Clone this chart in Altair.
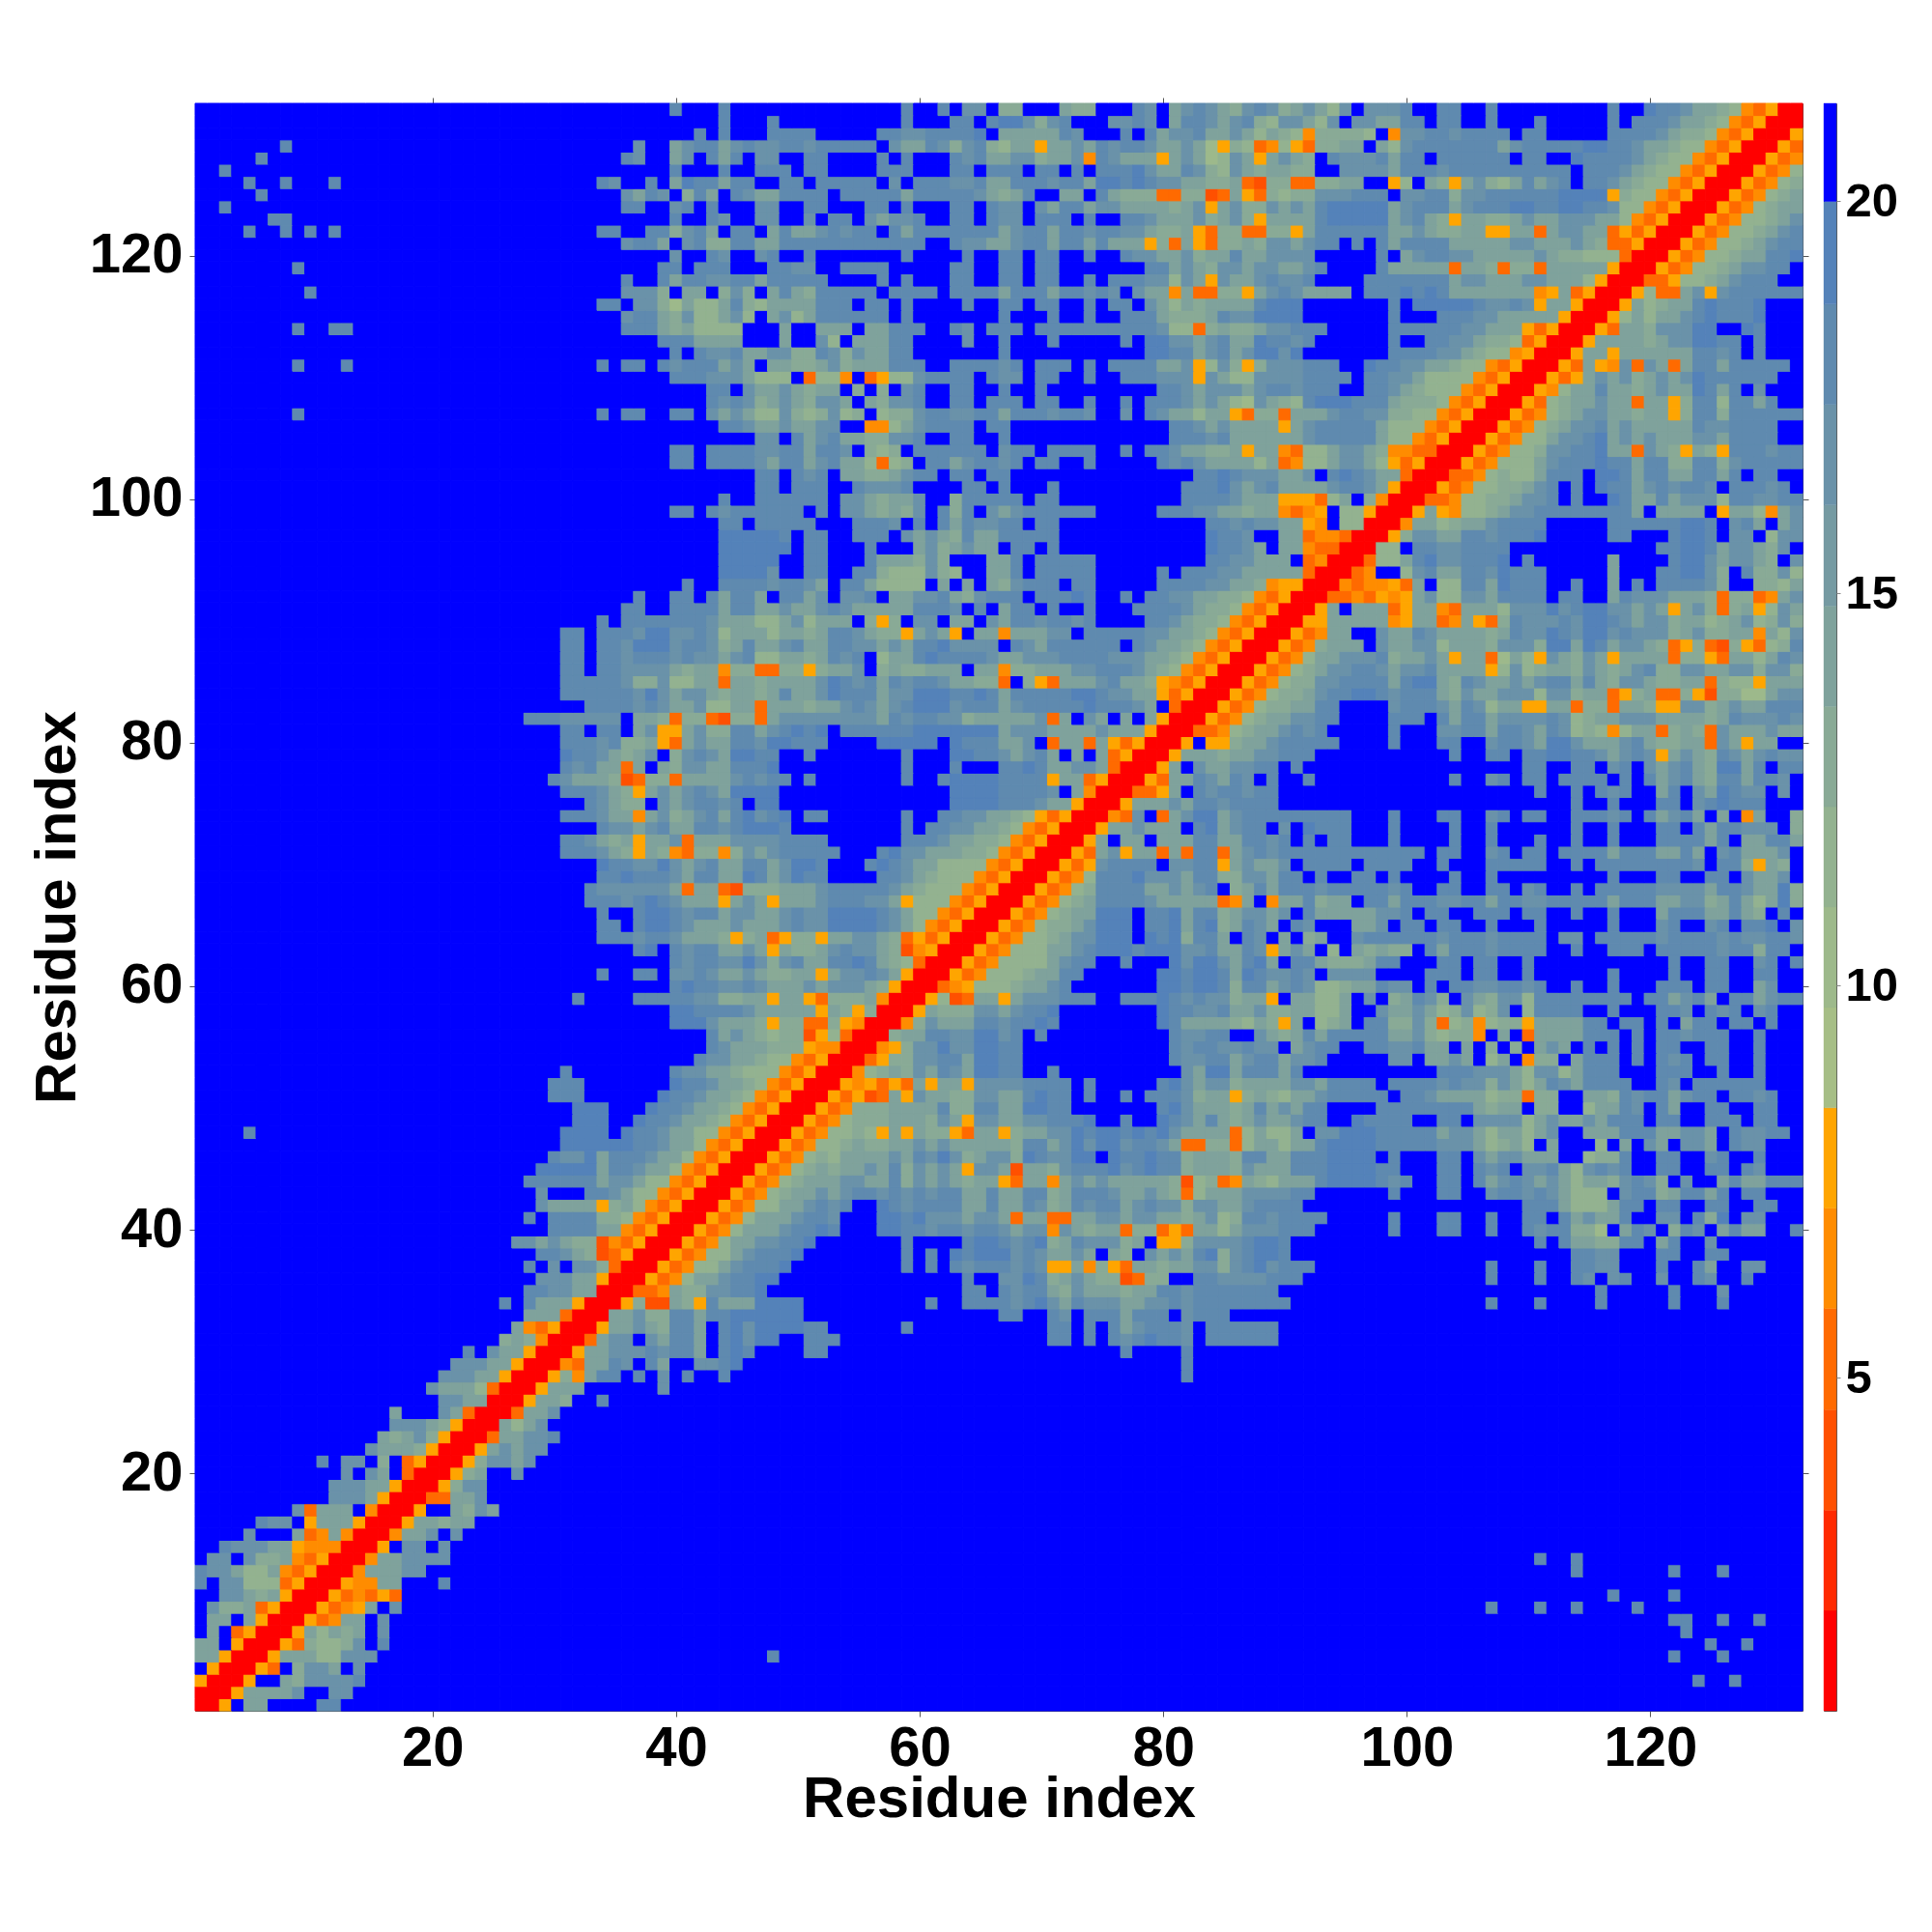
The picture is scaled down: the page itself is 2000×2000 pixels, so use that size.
import altair as alt
import pandas as pd

alt.data_transformers.disable_max_rows()

N = 132
# level code (hex digit) for each band of the colour bar: 0 red ... 5 orange, 6..e green to steel blue, f blue
BAND_COLORS = ["#ff0000", "#ff2a00", "#ff5000", "#ff6a00", "#ff8c00", "#ffa500",
               "#a6be86", "#9db98b", "#93b290", "#89aa96", "#7fa29c", "#759aa2",
               "#6a92a9", "#5f8aaf", "#5482b9", "#0000ff"]
BAND_EDGES = [0.75, 2.03, 3.31, 4.59, 5.88, 7.16, 8.44, 9.72, 11.0, 12.28, 13.56,
              14.84, 16.13, 17.41, 18.69, 20.0, 21.25]
TICKS_MAIN = [20, 40, 60, 80, 100, 120]
TICKS_BAR = [5, 10, 15, 20]
# the transcription codes b, c, d read a band too light against the reference
CODE_FIX = {11: 12, 12: 13, 13: 14}

# rows 132 down to 53, columns 31..70
SEG_A = [
"fffffffffc fffcffffff ffffffffcf fcfbbf99ff",
"ffffffffff fffcfffcff ffffffffcf ffccfcddb9",
"ffffffffff fcfcfffccc cfffffccbb ccccdfaaaa",
"ffffffbffa bccabcbbcc bcccccfbaa cb9bc98aa5",
"fffffcbffa bfcacfbbff ccffffcfcf ffcbcaabb9",
"fffffffffc fffcffcccf ccffffcccf ffccfcccfc",
"fffcbffcfa dccaccffcc fcccccfbfc ccbbcaaccc",
"fffffbacbf 9cafcbaacc ccfcccccac ccccba9acf",
"fffffccffb cfcfffbbff ccfffccfcf ffccfcbbfb",
"fffffffffc ffcbffbbff bfccfbabbc ffccfcbbfc",
"fffccffcc9 bcafccfaca abcbccfcac ccccccabcc",
"fffffbccaf bc99ccaacc cccccccccc ffcbbaabcc",
"fffffffffb ffcbffbcff cfffffffcf fffcffccfc",
"ffffffffcc fcccfffccb bffccccfff ffccffccfc",
"fffffcffca ccbbccaccc ccffffcfcf ffccffccfc",
"fffffbbb9f aaf9b9faca 9cccccfccc cfccccaccc",
"fffccfbb97 a88ac98aaa acccfccfcf fffcffccfc",
"fffffbcca9 b88ab8fab8 accccccfcf ffffffcfff",
"fffffccca9 a8888fffaf faaafaaccc ffcbfcccfc",
"ffffffffcc caaaafffaf fb8faaaccf fffbffcfff",
"fffffffffc fcbbcaabb9 9cb9baaccf ffffffcfff",
"fffcfccfcb cccabafaa9 9ab9aaaccc ffccccbcfc",
"fffffffffc ccbbba888f 3884f3588b ccccfcbbfc",
"ffffffffff ffccfbaaba 9aaf9f9fbc ffccffcffc",
"ffffffffff ffcbcb9aba 9bbafa9bbc ffccfcccfc",
"fffcfccffc cfbaba88b9 89b89f899b ccbbccaccc",
"ffffffffff fffccbaaba abbff448ab ccccfccfff",
"ffffffffff ffffffbbfc abcaa99bbc ffccffcfff",
"fffffffffc cfccccbbcc accbf989fc cccccfbccf",
"fffffffffc cfccccbacc abcaa8389f ccabccbcfc",
"ffffffffff ffffffccfc bcfaa99abc cfccfccfff",
"ffffffffff ffffffccfc ccffcbbbcf fffccfcfff",
"ffffffffff fffcffcccc ccfbba9aab ff9cccccfc",
"fffffffffc cfcbcccccc fcfbba9a9b fc9cfbabcc",
"ffffffffff fffccfcccc cfffcccbfc fcacbbccfc",
"ffffffffff fffdddddcf ccffcccfba ba9caacccc",
"ffffffffff fffddddddf ccfffcfffa b9abaafccf",
"ffffffffff fffdddddff ccfffcaaa9 b9fffaacfc",
"ffffffffff fffddddbff ccffcc9888 b98ffaacfc",
"ffffffffff cffccccbcc bafcca8888 fafafa9bcc",
"ffffffcffc cfcaccafcc abfbbcfaab bca9bcccfc",
"fffffccffc cccaccaaba abcbaaaaac ccbfcfaccf",
"fffcfccccc ccbaaa88ab 8aaaf959fb bfaafbaccb",
"ccfcccbddb bcb8aaa8aa 9accba995a ba5faa4aaa",
"ccfccbdddb ccb9acaabc aaccbbabac cdbbbbfcba",
"ccfccbcccb cbbabc88aa 9acbcf8aac dccccbaabb",
"ccfccbbbba 9aa4993399 59aabf9a99 aaafaa499a",
"cccccb99b8 8aa3aa9aaa abdcbcacbc cbaa993f95",
"ccccccbdba bba9aa9aca abdcccabbd ddccdcaccc",
"ffccccbcba ab88aa3aaa 9aabcbabcd ddbcccabcc",
"bbbbbfaa93 9932993abb bbbbbbacbc cbb9aaaaab",
"ccfccfab55 ab99ccabcd cdfccccccd ddddddabbb",
"cccbc99a53 abaaccbddc ccffffdddd dfdcccaabf",
"dccba9abf9 bcbaddccff cfffffffcf ffddccbabc",
"cbcaa3afa9 bbaacccdff ffffffffcf ffcfffccdc",
"baaa923993 aaaabcbccf cfffffffcf fcddddcccc",
"cccba95aba bcbaddddff ffffffffff ffddddcccc",
"ffcba99fba bccbcfddff ffffffffff ffddddcccb",
"cccbaa4ab9 abcacdbcdf ccffffffcf fccbbaa985",
"fffcbbabca accbcdddcf ffffffffcf ccbbaa9843",
"ccba9a5aab 3aaabbbbcc ccffffffcc cbaa998435",
"cccba95a94 39949babcc cccfffcdbb aaa9984350",
"fffdccbbdb abcaaccabd dcfffcdcba a888843500",
"fffccdcccb accaadcabd ccffffccba 988843500",
"ffcbbbbbba 3aa32999aa abcccccba9 88843500",
"ffcccbcdcb aaa5aba5aa abcccbba58 8843500",
"fffcffcddc bccabbaabc bbddddcba8 843500",
"fffccfcddc baaabaaabc bbddddcba8 43500",
"fffcccbccb aaa959a359 95aabba935 3500",
"ffffffcdfc bccaaba5a9 9abcbba924 500",
"fffffffffc bccbbdb9bc aaccdca983 00",
"fffcffccfb bcbaaba99a a5abbcba50 0",
"fffffffffc dccbbcbaaa babbba9500",
"fcffffcccc cbb99aa5aa 53999a400",
"fffffffffd dccccbaaaa a5a95900",
"fffffffffd ddbaaa9599 3395400",
"ffffffffff ffcaba9899 258300",
"ffffffffff ffcbaaa999 54400",
"ffffffffff fcbbaa9884 3500",
"cffffffffc bbaa988843 500",
]

# rows 132 down to 71, columns 71..110 (or up to the diagonal)
SEG_B = [
"fa99fffcbf abcba9bcb9 aba8bfbbbc ffccffcfff",
"bcfffbbcbf accbabc98b ba8bfbbaac cfccffcfff",
"acbfffcfca bbcaaba8a9 8499998f4b bccbccccfc",
"aabacbccba aba7598348 5399aafa8b cccccccabc",
"aab4cbaaa5 aba78ba5ab a9fcbbbcac cfccccccfc",
"cfcfcccdba acb98ba9aa 99ffbbbbac ccbccccccc",
"bccaddcdcb baa99a3299 3399aaff58 fa95ab98ac",
"faafca9993 39923a5398 99bbbcccfb bcc9bbcccc",
"accabbaaaa 9ab5ab99ba bacdddddab cccabcccdd",
"ccfcffccba aab9ab95aa aacdddddab ca95aa99ab",
"accbccbba9 9a53993399 5accccccaa ba99aa55aa",
"accacaaa59 3a5399a9bb abccfcfcac cccaaaaabb",
"cffcffcbba ab9aacaabb bbfffffcfa bccbbaaaaa",
"cfffffffcc aba9bbabba abcffffcaa aaa3aa9399",
"cffcfcccbb 8ba5baabcb bcffffcccc cccabbaaab",
"accbcbfbaa 4a33995abc baaaafcccd cdcaaaaaaa",
"cffcfccfba 8a9aaaacdd dfffffffcf dddddcbbcb",
"cffcffccca 999acbbddd dfffffffcf ffcccbbaaa",
"cccccccccb 8839a99abb cccfffffcc ccccbbaaa5",
"cfffffcfdd bbabcaadcc bcffffffcf fccbba9983",
"ffffffffdd ccabcabddb dfffffffcc ccbba98845",
"ccfcfcccca ab58b959bb bcccffdccb baa9884350",
"cffcffcccb bb5ba88bbb bccccfccbb a888843500",
"fffffffffc cbabbbabcc bcccffccba 988843500",
"cffcffcfcc cbaba87ba9 8cdddccca9 99843500",
"bccbffbfcb aa8aa53993 aaabccbb99 8843500",
"ffffffffff ccbabaaaa5 abccccca88 843500",
"ffffffffff cccbcaaaaa abccccca88 43500",
"ccccffcfcc baa99a5aa4 388abba944 3300",
"cffcfffffc bcbaaaa8a3 488abba853 500",
"ffffffffff ffccdcbbba abfcdcbaa3 00",
"cfffffffff fcccdbabca aaabccba50 0",
"cfffffffff fccccbaaa5 5538af9400",
"ccccfffffc ccbbaa9aa4 345f88500",
"cfffffffff fffccbcbba a54f8800",
"cfffffffff fffdccbffa a344300",
"cfffffffff fffdccbafa a43300",
"ccccffffff fffccbbaaa f3400",
"ccccfffffc fcccbbaaaa a300",
"cfccfffffc cccbbaa945 500",
"ccdcffcfcc bbaa998435 00",
"cffcfffccc cba9984350 0",
"ccbcffffcc ba99843500",
"bbfcccccbb aa9843500",
"ccccccfcba a9843500",
"bccccbbbaa 9843500",
"aabbcccba9 843500",
"3aaabcaa95 43500",
"ccddcbbaa5 3500",
"cccdcccbaf 300",
"3afbafafa5 00",
"aaaabaaa50 0",
"3aa3a53500",
"afafa3500",
"aabba300",
"5aa3500",
"bfa400",
"aa500",
"3500",
"500",
"00",
"0",
]

# rows 132 down to 111, columns 111 up to the diagonal
SEG_C = [
"ffffffcffd ccbaa98435 00",
"cfffffcfcc cbaa984350 0",
"cfffffcccc ba99843500",
"ccccddccba a98843500",
"cffdccccba 98843500",
"cccfcccba9 8843500",
"abcfccba98 843500",
"ccdddd5988 43500",
"ccddccb884 3500",
"aabbbaa843 500",
"3abbaa3535 00",
"aaaba93350 0",
"ba99888300",
"3aaaaa500",
"baaa8500",
"45a3500",
"5aa500",
"aa500",
"3500",
"500",
"00",
"0",
]

# row, first column, codes: rows 1..52 and the few cells left of column 31
LOW = [
(82,28,"ccc"),(77,30,"c"),
(52,30,"ccc"),(52,40,"dccbaa9843500"),(51,30,"ccc"),(51,39,"dccbaa9843500"),
(50,32,"ddd"),(50,38,"dccbaa9843500"),(49,32,"ddd"),(49,37,"dccbaa9843500"),
(48,5,"c"),(48,31,"dddd"),(48,36,"dccbaa8843500"),(47,31,"dddddd"),(47,37,"ccbaa843500"),
(46,30,"cbbdaccc"),(46,38,"baa843500"),(45,29,"dddddaccbaa843500"),(44,28,"ccccccabba8843500"),
(43,29,"b"),(43,33,"ccba8843500"),(42,29,"baaaa59a843500"),(41,28,"cfcccc99843500"),
(40,30,"ccccaa43500"),(39,27,"bbaba99243500"),(38,29,"ccba923500"),(37,28,"cfbfbb9300"),
(36,29,"bbbaa500"),(35,28,"ccbbaa00"),(34,26,"c"),(34,28,"caaa500"),(33,28,"aaa300"),
(32,27,"a43500"),(31,26,"9a9400"),(30,23,"c"),(30,25,"baa500"),(29,22,"bbbaa500"),
(28,21,"bbbaa500"),(27,20,"baaa8300"),(26,21,"bbaa00"),(25,17,"a"),(25,21,"ba300"),
(24,17,"bbba9500"),(23,16,"a9ab9500"),(22,15,"baaa9500"),(21,11,"c"),(21,13,"bbf9f3500"),
(20,13,"bfbaf300"),(19,12,"bbbaa500"),(18,12,"bbba500"),(17,9,"b3aaaf400"),
(16,6,"cbbf5aaa500"),(15,5,"bfffa34a400"),(14,3,"cbbbaa544400"),(13,2,"bbfb99a43500"),
(12,1,"cbba88a43500"),(11,1,"cfbb8883500"),(10,1,"ffbba9a500"),(9,1,"fb99a3500"),
(8,1,"faafa500"),(7,1,"faf3500"),(6,1,"aaf500"),(5,1,"aa500"),(4,1,"f500"),(3,1,"500"),
(2,1,"00"),(1,1,"0"),
]

# isolated cells in the far corner: column, row
SPARSE = [(8,129),(6,128),(3,127),(5,126),(8,126),(12,126),(6,125),(3,124),(7,123),(8,123),
          (5,122),(8,122),(10,122),(12,122),(9,119),(10,117),(9,114),(12,114),(13,114),
          (9,111),(13,111),(9,107)]

grid = {}
def put(row, first, codes, length=None):
    codes = codes.replace(" ", "")
    if length is not None:
        codes = (codes + "f" * length)[:length]
    for i, ch in enumerate(codes):
        col = first + i
        if col <= row:
            grid[(row, col)] = int(ch, 16)

for i, s in enumerate(SEG_A):
    r = 132 - i
    put(r, 31, s, min(40, r - 30))
for i, s in enumerate(SEG_B):
    r = 132 - i
    put(r, 71, s, min(40, r - 70))
for i, s in enumerate(SEG_C):
    r = 132 - i
    put(r, 111, s, r - 110)
for r, first, s in LOW:
    put(r, first, s)
for c, r in SPARSE:
    grid[(r, c)] = 12

rows = []
for r in range(1, N + 1):
    for c in range(1, N + 1):
        lv = grid.get((max(r, c), min(r, c)), 15)
        lv = CODE_FIX.get(lv, lv)
        mid = (BAND_EDGES[lv] + BAND_EDGES[lv + 1]) / 2
        rows.append({"x0": c - 0.5, "x1": c + 0.5, "y0": r - 0.5, "y1": r + 0.5, "v": mid})
df = pd.DataFrame(rows)

FONT = "Liberation Sans"
dom = [0.5, N + 0.5]
scale_x = alt.Scale(domain=dom, nice=False, zero=False)
scale_y = alt.Scale(domain=dom, nice=False, zero=False)
col_scale = alt.Scale(type="threshold", domain=BAND_EDGES[1:-1], range=BAND_COLORS)
TICK = "#555555"

TITLE_PAD = {"bottom": -6, "left": 2}
LABEL_PAD = {"bottom": 4, "left": 7}

def ax(orient, title=None, labels=True):
    opts = dict(orient=orient, values=TICKS_MAIN, tickSize=6, tickWidth=1, tickColor=TICK,
                domain=False, grid=False, labels=labels)
    if title:
        opts.update(title=title, titleFont=FONT, titleFontSize=60, titleFontWeight="bold",
                    titleColor="#000", titlePadding=TITLE_PAD[orient])
    else:
        opts.update(title=None)
    if labels:
        opts.update(labelFont=FONT, labelFontSize=58, labelFontWeight="bold", labelColor="#000",
                    labelPadding=LABEL_PAD[orient], format="d", labelOverlap=False)
    return alt.Axis(**opts)

cells = alt.Chart(df).mark_rect(strokeWidth=1).encode(
    x=alt.X("x0:Q", scale=scale_x, axis=ax("bottom", "Residue index")),
    x2="x1:Q",
    y=alt.Y("y0:Q", scale=scale_y, axis=ax("left", "Residue index")),
    y2="y1:Q",
    color=alt.Color("v:Q", scale=col_scale, legend=None),
    stroke=alt.Stroke("v:Q", scale=col_scale, legend=None),
)
frame = alt.Chart(pd.DataFrame({"x0": [1.0], "x1": [2.0], "y0": [1.0], "y1": [2.0]})).mark_rect(opacity=0).encode(
    x=alt.X("x0:Q", scale=scale_x, axis=ax("top", labels=False)),
    x2="x1:Q",
    y=alt.Y("y0:Q", scale=scale_y, axis=ax("right", labels=False)),
    y2="y1:Q",
)
main = alt.layer(cells, frame).resolve_axis(x="independent", y="independent").properties(width=1664, height=1664)

bar_df = pd.DataFrame({"lo": BAND_EDGES[:-1], "hi": BAND_EDGES[1:], "c": BAND_COLORS})
bar = alt.Chart(bar_df).mark_rect(strokeWidth=0.4).encode(
    x=alt.value(0), x2=alt.value(13),
    y=alt.Y("lo:Q", scale=alt.Scale(domain=[0.75, 21.25], nice=False, zero=False),
            axis=alt.Axis(orient="right", values=TICKS_BAR, tickSize=4, tickWidth=1, tickColor="#888",
                          domain=False, grid=False, title=None, labelFont=FONT, labelFontSize=49,
                          labelFontWeight="bold", labelColor="#000", labelPadding=5, format="d")),
    y2="hi:Q",
    color=alt.Color("c:N", scale=None),
    stroke=alt.Stroke("c:N", scale=None),
).properties(width=13, height=1664)

chart = alt.hconcat(main, bar, spacing=14).configure_view(stroke="#555555", strokeWidth=1).properties(
    padding={"left": 20, "top": 92, "right": 5, "bottom": 5})

chart.save("out.html", embed_options={"renderer": "svg", "actions": False})
